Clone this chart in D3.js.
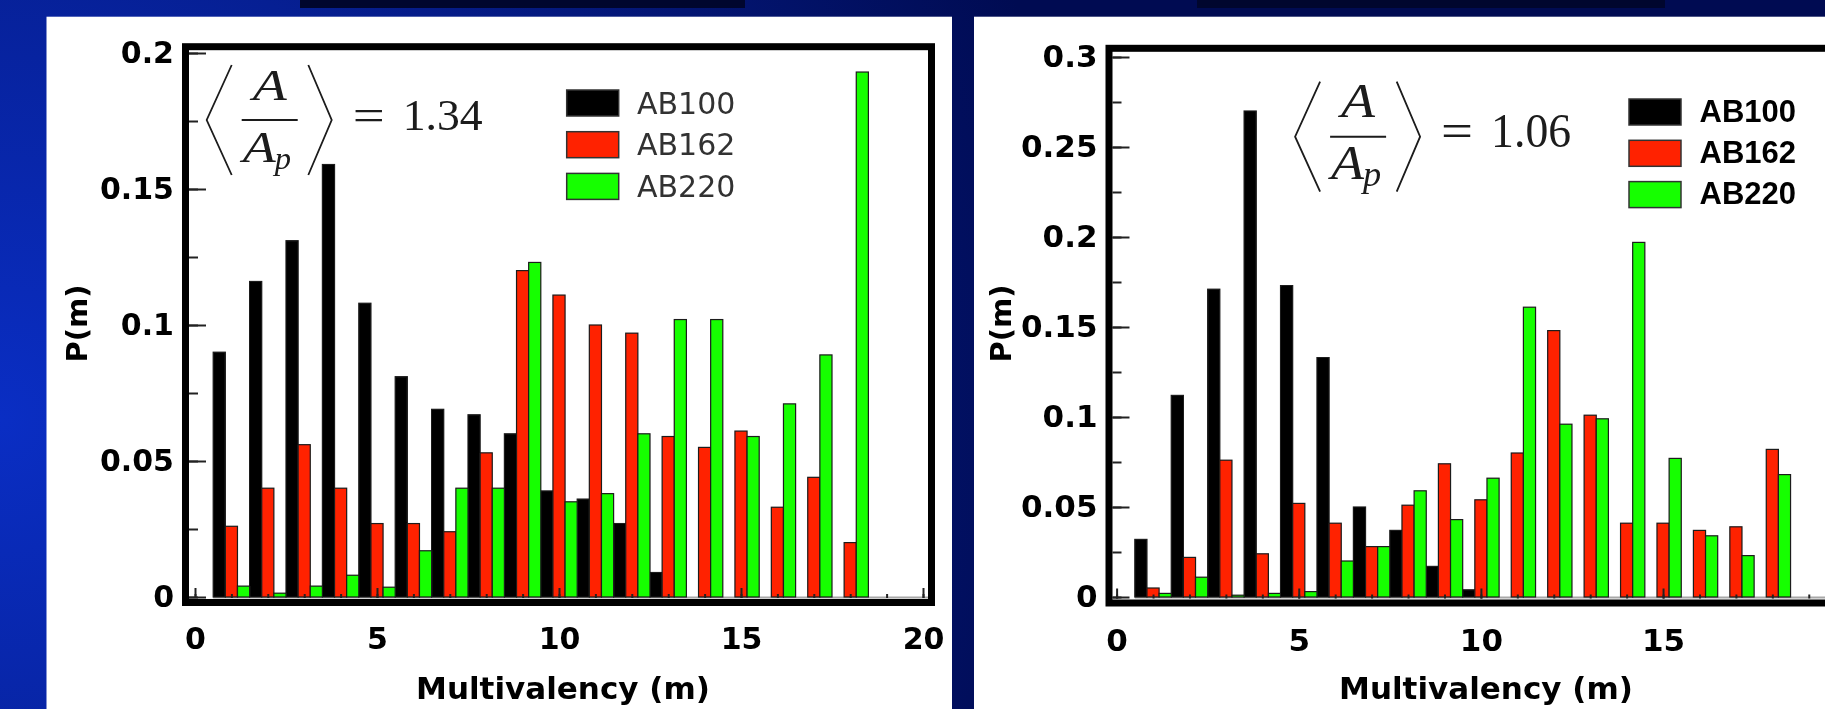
<!DOCTYPE html>
<html>
<head>
<meta charset="utf-8">
<script src="https://cdn.jsdelivr.net/npm/d3@7"></script>
<style>
  html, body { margin: 0; padding: 0; background: #000a50; overflow: hidden; }
  svg { display: block; }
</style>
</head>
<body>
<div id="chart"></div>
<script>
// multivalency m = 1..18, three bars per m
const multivalency = d3.range(1, 19);
const seriesNames = ["AB100", "AB162", "AB220"];
const seriesColors = ["#000000", "#ff2200", "#16ff00"];

// left panel, <A/Ap> = 1.34
const ab100Left = [0.090, 0.116, 0.131, 0.159, 0.108, 0.081, 0.069, 0.067, 0.060, 0.039, 0.036, 0.027, 0.009, 0, 0, 0, 0, 0];
const ab162Left = [0.026, 0.040, 0.056, 0.040, 0.027, 0.027, 0.024, 0.053, 0.120, 0.111, 0.100, 0.097, 0.059, 0.055, 0.061, 0.033, 0.044, 0.020];
const ab220Left = [0.004, 0.0014, 0.004, 0.008, 0.0036, 0.017, 0.040, 0.040, 0.123, 0.035, 0.038, 0.060, 0.102, 0.102, 0.059, 0.071, 0.089, 0.193];

// right panel, <A/Ap> = 1.06
const ab100Right = [0.032, 0.112, 0.171, 0.270, 0.173, 0.133, 0.050, 0.037, 0.017, 0.004, 0, 0, 0, 0, 0, 0, 0, 0];
const ab162Right = [0.005, 0.022, 0.076, 0.024, 0.052, 0.041, 0.028, 0.051, 0.074, 0.054, 0.080, 0.148, 0.101, 0.041, 0.041, 0.037, 0.039, 0.082];
const ab220Right = [0.002, 0.011, 0.001, 0.002, 0.003, 0.020, 0.028, 0.059, 0.043, 0.066, 0.161, 0.096, 0.099, 0.197, 0.077, 0.034, 0.023, 0.068];

const yTicksLeft = [0, 0.05, 0.1, 0.15, 0.2];
const yTicksRight = [0, 0.05, 0.1, 0.15, 0.2, 0.25, 0.3];
const yMinorLeft = d3.range(0, 0.2001, 0.025);
const yMinorRight = d3.range(0, 0.3001, 0.025);
const xTicks = [0, 5, 10, 15, 20];
const xMinor = d3.range(0, 21);

const W = 1825, H = 709;
const svg = d3.select("#chart").append("svg").attr("width", W).attr("height", H);

const defs = svg.append("defs");
const grad = defs.append("radialGradient").attr("id", "bg")
  .attr("gradientUnits", "userSpaceOnUse")
  .attr("cx", 0).attr("cy", 420).attr("r", 1100);
grad.append("stop").attr("offset", 0).attr("stop-color", "#0a2ec4");
grad.append("stop").attr("offset", 0.45).attr("stop-color", "#061f93");
grad.append("stop").attr("offset", 1).attr("stop-color", "#000b52");
// the reference is an upscaled slide, slightly soft
defs.append("filter").attr("id", "soft")
  .append("feGaussianBlur").attr("stdDeviation", 0.6);

svg.append("rect").attr("width", W).attr("height", H).attr("fill", "url(#bg)");
// dark title shadows at the very top
svg.append("rect").attr("x", 300).attr("y", 0).attr("width", 445).attr("height", 8).attr("fill", "#00062e");
svg.append("rect").attr("x", 1197).attr("y", 0).attr("width", 468).attr("height", 8).attr("fill", "#00062e");

const panels = [
  {
    bg: [46.5, 16.7, 905.5], data: [ab100Left, ab162Left, ab220Left],
    xRange: [195, 923], yMax: 0.2, yRange: [597, 53],
    yTicks: yTicksLeft, yMinor: yMinorLeft,
    frame: [185.5, 46.7, 931.5, 602.5],
    tickFont: 30, ylabX: 87, xlabX: 563,
    legend: { x: 566.7, y: 90, step: 41.7, tx: 637, dy: 23.5, family: "'DejaVu Sans', sans-serif", weight: "normal", size: 30, color: "#333" },
    ratio: { x: 206.7, y: 120, value: "1.34", fsA: 44, fsN: 44 }
  },
  {
    bg: [974, 16.7, 900], data: [ab100Right, ab162Right, ab220Right],
    xRange: [1116.6, 1845.2], yMax: 0.3, yRange: [597, 57],
    yTicks: yTicksRight, yMinor: yMinorRight,
    frame: [1109, 48.3, 1853, 603],
    tickFont: 31, ylabX: 1011, xlabX: 1486,
    legend: { x: 1629, y: 99, step: 41.3, tx: 1699.6, dy: 22.7, family: "'Liberation Sans', Arial, sans-serif", weight: "bold", size: 31, color: "#000" },
    ratio: { x: 1295.1, y: 136.7, value: "1.06", fsA: 49, fsN: 48 }
  }
];

function drawRatio(g, r) {
  const f = g.append("g").attr("transform", `translate(${r.x},${r.y})`)
    .attr("fill", "#1a1a1a").attr("font-family", "'Liberation Serif', 'DejaVu Serif', serif");
  const line = d3.line();
  f.append("path").attr("d", line([[25, -55], [0, 0], [25, 55]]))
    .attr("fill", "none").attr("stroke", "#1a1a1a").attr("stroke-width", 1.8);
  f.append("path").attr("d", line([[101.6, -55], [125, 0], [101.6, 55]]))
    .attr("fill", "none").attr("stroke", "#1a1a1a").attr("stroke-width", 1.8);
  f.append("text").attr("x", 46).attr("y", -20).attr("font-style", "italic")
    .attr("font-size", r.fsA).attr("textLength", 34).attr("lengthAdjust", "spacingAndGlyphs").text("A");
  f.append("line").attr("x1", 35).attr("x2", 91).attr("y1", 0).attr("y2", 0)
    .attr("stroke", "#1a1a1a").attr("stroke-width", 2);
  f.append("text").attr("x", 36).attr("y", 42).attr("font-style", "italic")
    .attr("font-size", r.fsA).attr("textLength", 33).attr("lengthAdjust", "spacingAndGlyphs").text("A");
  f.append("text").attr("x", 68).attr("y", 49).attr("font-style", "italic")
    .attr("font-size", r.fsA * 0.74).text("p");
  f.append("text").attr("x", 146).attr("y", 10).attr("font-size", r.fsN)
    .attr("textLength", 32).attr("lengthAdjust", "spacingAndGlyphs").text("=");
  f.append("text").attr("x", 196).attr("y", 10).attr("font-size", r.fsN)
    .attr("textLength", 80).attr("lengthAdjust", "spacingAndGlyphs").text(r.value);
}

panels.forEach(p => {
  const g = svg.append("g").attr("filter", "url(#soft)");
  g.append("rect").attr("x", p.bg[0]).attr("y", p.bg[1]).attr("width", p.bg[2]).attr("height", H + 20)
    .attr("fill", "#fff");

  const x = d3.scaleLinear().domain([0, 20]).range(p.xRange);
  const y = d3.scaleLinear().domain([0, p.yMax]).range(p.yRange);
  const [fx1, fy1, fx2, fy2] = p.frame;
  const barW = x(1 / 3) - x(0);

  // grey baseline under the bars
  g.append("line").attr("x1", x(0.5)).attr("x2", fx2).attr("y1", y(0) + 0.5).attr("y2", y(0) + 0.5)
    .attr("stroke", "#a8a8a8").attr("stroke-width", 2);

  p.data.forEach((vals, k) => {
    g.append("g").selectAll("rect")
      .data(multivalency.map((m, i) => ({ m, v: vals[i] })).filter(d => d.v > 0))
      .join("rect")
      .attr("x", d => x(d.m - 0.5 + k / 3))
      .attr("width", barW)
      .attr("y", d => y(d.v))
      .attr("height", d => y(0) - y(d.v))
      .attr("fill", seriesColors[k])
      .attr("stroke", "#1a1a1a")
      .attr("stroke-width", 1.2);
  });

  const inL = fx1 + 3.5, inB = fy2 - 4.5;
  const styleAxis = (ax, size) => {
    ax.select(".domain").remove();
    ax.selectAll(".tick line").attr("stroke", "#222").attr("stroke-width", 2);
    ax.attr("font-family", "'DejaVu Sans', sans-serif").attr("font-size", size)
      .attr("font-weight", "bold");
    ax.selectAll(".tick text").attr("fill", "#000");
  };

  const yMinorAx = g.append("g").attr("transform", `translate(${inL},0)`)
    .call(d3.axisLeft(y).tickValues(p.yMinor).tickSize(-9).tickFormat(""));
  styleAxis(yMinorAx, p.tickFont);
  const yAx = g.append("g").attr("transform", `translate(${inL},0)`)
    .call(d3.axisLeft(y).tickValues(p.yTicks).tickSize(-17).tickPadding(15).tickFormat(d3.format("~g")));
  styleAxis(yAx, p.tickFont);

  const xMinorAx = g.append("g").attr("transform", `translate(0,${inB})`)
    .call(d3.axisBottom(x).tickValues(xMinor).tickSize(-4).tickFormat(""));
  styleAxis(xMinorAx, p.tickFont);
  const xAx = g.append("g").attr("transform", `translate(0,${inB})`)
    .call(d3.axisBottom(x).tickValues(xTicks).tickSize(-10).tickPadding(30).tickFormat(d3.format("d")));
  styleAxis(xAx, p.tickFont);

  // frame
  g.append("rect").attr("x", fx1).attr("y", fy1).attr("width", fx2 - fx1).attr("height", fy2 - fy1)
    .attr("fill", "none").attr("stroke", "#000").attr("stroke-width", 7);

  // legend
  const L = p.legend;
  seriesNames.forEach((name, k) => {
    g.append("rect").attr("x", L.x).attr("y", L.y + k * L.step).attr("width", 52).attr("height", 26)
      .attr("fill", seriesColors[k]).attr("stroke", "#333").attr("stroke-width", 1.5);
    g.append("text").attr("x", L.tx).attr("y", L.y + k * L.step + L.dy)
      .attr("font-family", L.family).attr("font-weight", L.weight).attr("font-size", L.size)
      .attr("fill", L.color).text(name);
  });

  drawRatio(g, p.ratio);

  // axis titles
  g.append("text").attr("transform", `translate(${p.ylabX},${323.5}) rotate(-90)`)
    .attr("text-anchor", "middle").attr("font-family", "'DejaVu Sans', sans-serif")
    .attr("font-weight", "bold").attr("font-size", 29).text("P(m)");
  g.append("text").attr("x", p.xlabX).attr("y", 699.3)
    .attr("text-anchor", "middle").attr("font-family", "'DejaVu Sans', sans-serif")
    .attr("font-weight", "bold").attr("font-size", 31).text("Multivalency (m)");
});
</script>
</body>
</html>
